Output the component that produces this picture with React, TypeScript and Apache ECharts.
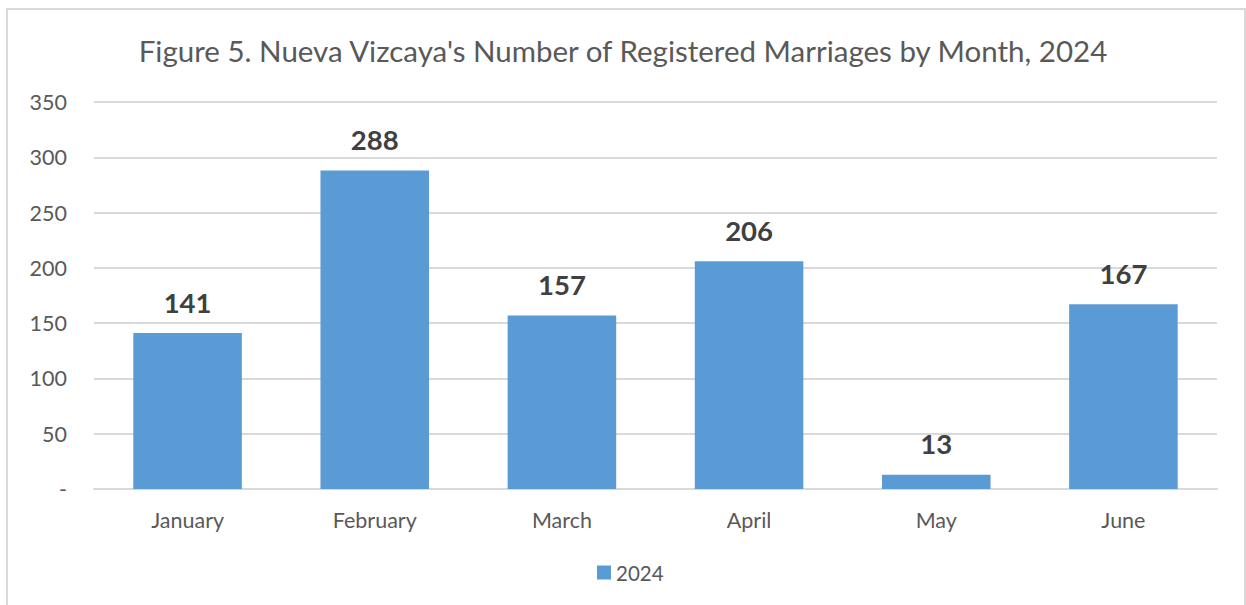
import React, { useEffect, useRef } from "react";
import * as echarts from "echarts";

const months = ["January", "February", "March", "April", "May", "June"];
const marriages2024 = [141, 288, 157, 206, 13, 167];
const seriesName = "2024";
const titleText = "Figure 5. Nueva Vizcaya's Number of Registered Marriages by Month, 2024";

const FONT = "Lato, 'Open Sans', sans-serif";

export default function App() {
  const ref = useRef<HTMLDivElement>(null);
  useEffect(() => {
    if (!ref.current) return;
    const chart = echarts.init(ref.current, undefined, { renderer: "svg" });
    chart.setOption({
      animation: false,
      backgroundColor: "#ffffff",
      title: {
        text: titleText,
        left: "center",
        top: 30,
        textStyle: { fontFamily: FONT, fontSize: 29.5, fontWeight: "normal", color: "#595959" },
      },
      graphic: [
        {
          type: "rect",
          shape: { x: 7, y: 9, width: 1238, height: 620 },
          style: { fill: "none", stroke: "#d9d9d9", lineWidth: 2 },
          silent: true,
        },
      ],
      legend: {
        data: [seriesName],
        bottom: 17,
        left: 592,
        itemWidth: 14,
        itemHeight: 14,
        itemGap: 7,
        textStyle: { fontFamily: FONT, fontSize: 20.5, color: "#595959" },
        icon: "rect",
      },
      grid: { left: 94, right: 29, top: 102, bottom: 116 },
      xAxis: {
        type: "category",
        data: months,
        axisLine: { lineStyle: { color: "#d9d9d9", width: 2 } },
        axisTick: { show: false },
        axisLabel: { fontFamily: FONT, fontSize: 21.5, color: "#595959", margin: 20 },
      },
      yAxis: {
        type: "value",
        min: 0,
        max: 350,
        interval: 50,
        axisLine: { show: false },
        axisTick: { show: false },
        splitLine: { lineStyle: { color: "#d9d9d9", width: 2 } },
        axisLabel: {
          fontFamily: FONT,
          fontSize: 21.5,
          color: "#595959",
          margin: 27,
          formatter: (v: number) => (v === 0 ? "-" : String(v)),
        },
      },
      series: [
        {
          name: seriesName,
          type: "bar",
          data: marriages2024,
          barWidth: "58%",
          itemStyle: { color: "#5b9bd5" },
          label: {
            show: true,
            position: "top",
            distance: 17,
            fontFamily: FONT,
            fontSize: 27.5,
            fontWeight: "bold",
            color: "#404040",
          },
        },
      ],
    });
    return () => chart.dispose();
  }, []);
  return (
    <div
      ref={ref}
      style={{ position: "fixed", left: 0, top: 0, width: 1246, height: 605 }}
    />
  );
}
